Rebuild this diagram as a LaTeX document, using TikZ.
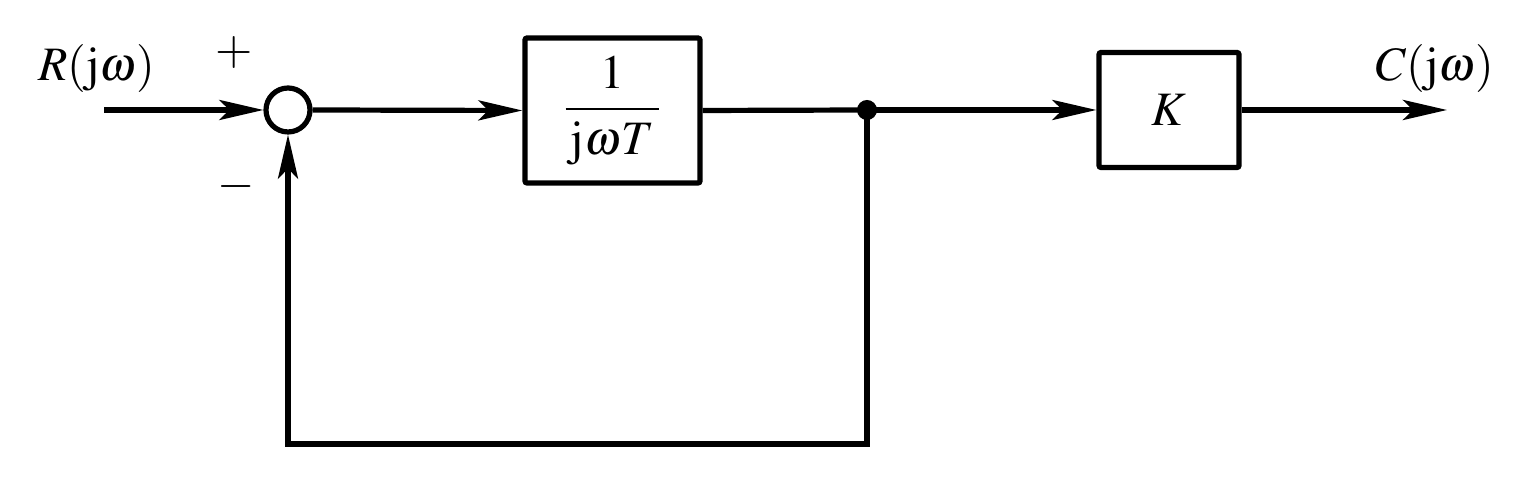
\documentclass[tikz,border=0pt]{standalone}
\usepackage{mathptmx}
\usepackage{fontspec}
\setmainfont{Liberation Serif}
\usetikzlibrary{arrows.meta}
\begin{document}
\begin{tikzpicture}[x=0.5pt,y=0.5pt,
  lw/.style={line width=2.6pt},
  blockbox/.style={draw,lw,rectangle,inner sep=0pt,rounded corners=1pt},
  sumnode/.style={draw,lw,circle,minimum size=22pt,inner sep=0pt},
  arr/.style={lw,-{Stealth[length=22pt,width=10pt,inset=5pt]}},
  lbl/.style={font=\fontsize{24}{28}\selectfont,inner sep=0pt}]
\useasboundingbox (0,0) rectangle (1530,485);
\coordinate (in) at (104,375);
\node[sumnode] (sum) at (288,375) {};
\node[blockbox,minimum width=87.5pt,minimum height=72.5pt,lbl] (G) at (612.5,374.5)
  {$\displaystyle\frac{1}{\,\mathrm{j}\omega T\,}$};
\node[circle,fill,minimum size=10pt,inner sep=0pt] (J) at (867,375) {};
\node[blockbox,minimum width=70pt,minimum height=57.5pt,lbl] (K) at (1169,375) {$K$};
\coordinate (out) at (1447,375);
\coordinate (bl) at (288,41);
\coordinate (br) at (867,41);
\node[lbl] (R) at (97,416) {$R(\mathrm{j}\omega)$};
\node[lbl] (C) at (1435,416) {$C(\mathrm{j}\omega)$};
\node[lbl] (plus) at (234,432) {$+$};
\node[lbl] (minus) at (236,298) {$-$};
\draw[arr] (in) -- (sum.west);
\draw[arr] (sum.east) -- (G.west);
\draw[lw] (G.east) -- (J.center);
\draw[arr] (J.center) -- (K.west);
\draw[arr] (K.east) -- (out);
\draw[arr,line join=miter] (J.center) -- (br) -- (bl) -- (sum.south);
\end{tikzpicture}
\end{document}
